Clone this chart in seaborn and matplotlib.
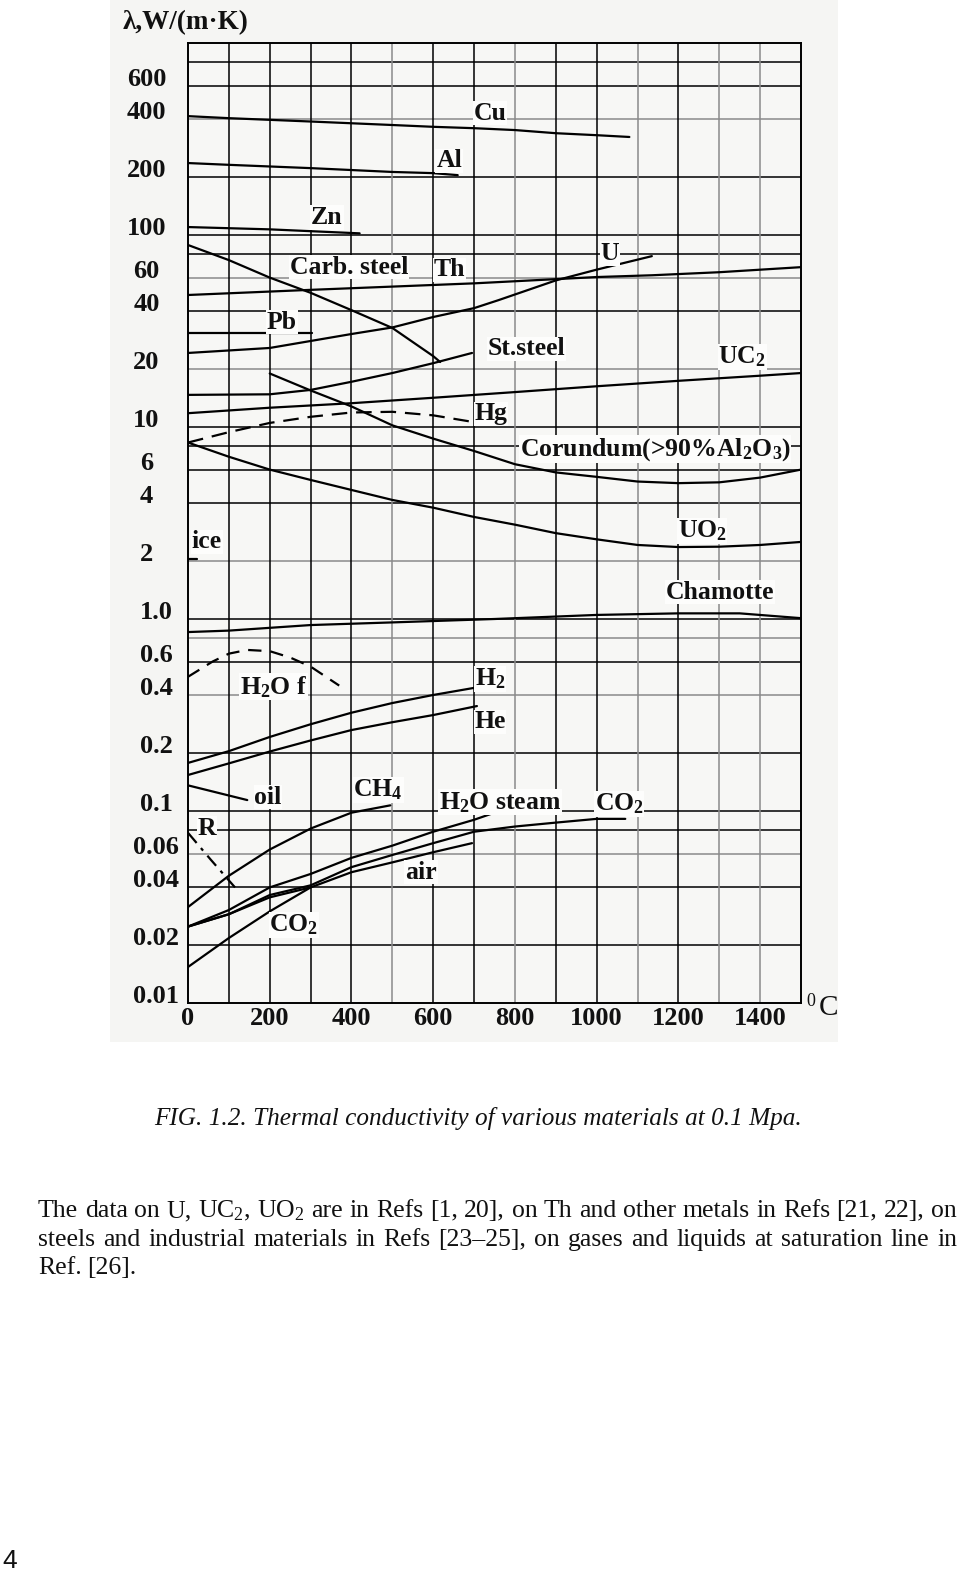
import numpy as np
import pandas as pd
import matplotlib
matplotlib.use("Agg")
import matplotlib.pyplot as plt
import seaborn as sns
from matplotlib.patches import Rectangle
from matplotlib.ticker import FixedLocator, NullLocator

sns.set_theme(style="white")
plt.rcParams["font.family"] = ["Liberation Serif", "DejaVu Serif"]
plt.rcParams["mathtext.fontset"] = "custom"
plt.rcParams["mathtext.rm"] = "Liberation Serif"
plt.rcParams["mathtext.bf"] = "Liberation Serif:bold"
plt.rcParams["mathtext.default"] = "regular"

# ---------------- data ----------------
temp_ticks = [0, 200, 400, 600, 800, 1000, 1200, 1400]
lam_ticks = [600, 400, 200, 100, 60, 40, 20, 10, 6, 4, 2, 1.0, 0.6, 0.4, 0.2,
             0.1, 0.06, 0.04, 0.02, 0.01]
lam_tick_labels = ["600", "400", "200", "100", "60", "40", "20", "10", "6", "4",
                   "2", "1.0", "0.6", "0.4", "0.2", "0.1", "0.06", "0.04",
                   "0.02", "0.01"]
lam_grid = [800, 600, 400, 200, 100, 80, 60, 40, 20, 10, 8, 6, 4, 2, 1, 0.8,
            0.6, 0.4, 0.2, 0.1, 0.08, 0.06, 0.04, 0.02]
lam_grid_gray = [400, 60, 20, 2, 0.8, 0.4, 0.06]
lam_decades = [100, 10, 1, 0.1]
temp_grid = [100, 200, 300, 400, 500, 600, 700, 800, 900, 1000, 1100, 1200, 1300, 1400]
temp_grid_gray = [500, 800, 1100, 1300, 1400]

cu_t = [0, 100, 300, 500, 600, 700, 800, 900, 1000, 1080]
cu_v = [416, 406, 390, 374, 366, 360, 352, 339, 331, 324]
al_t = [0, 100, 300, 500, 600, 660]
al_v = [237, 232, 223, 213, 210, 205]
zn_t = [0, 200, 420]
zn_v = [110, 107, 102]
pb_t = [0, 303]
pb_v = [31, 31]
cs_t = [0, 100, 200, 300, 400, 500, 600, 617]
cs_v = [88.7, 74, 60, 50, 40.6, 32.8, 23.4, 21.8]
th_t = [0, 300, 700, 1000, 1135, 1300, 1500]
th_v = [48.7, 51.8, 56, 60.4, 61.7, 64, 68]
u_t = [0, 200, 400, 500, 600, 700, 760, 900, 1000, 1135]
u_v = [24.3, 25.8, 30.5, 33, 37.4, 41.6, 45.8, 58, 66, 77.6]
ss_t = [0, 200, 300, 400, 500, 600, 695]
ss_v = [14.7, 14.8, 15.6, 17.2, 19.1, 21.5, 24.3]
uc2_t = [0, 200, 400, 600, 800, 1000, 1200, 1400, 1500]
uc2_v = [11.8, 12.6, 13.3, 14.2, 15.2, 16.3, 17.4, 18.5, 19.1]
hg_t = [0, 100, 200, 300, 400, 500, 600, 700]
hg_v = [8.3, 9.4, 10.5, 11.3, 11.9, 12, 11.5, 10.6]
cor_t = [200, 300, 400, 500, 600, 700, 800, 900, 1000, 1100, 1200, 1300, 1400, 1500]
cor_v = [19, 15.5, 12.8, 10.2, 8.7, 7.5, 6.4, 5.8, 5.5, 5.2, 5.1, 5.15, 5.45, 6]
uo2_t = [0, 100, 200, 300, 400, 500, 600, 700, 800, 900, 1000, 1100, 1200, 1300, 1400, 1500]
uo2_v = [8.3, 7, 6, 5.3, 4.7, 4.17, 3.8, 3.4, 3.1, 2.8, 2.6, 2.43, 2.37, 2.38, 2.43, 2.52]
cham_t = [0, 100, 300, 500, 750, 1000, 1200, 1350, 1500]
cham_v = [0.855, 0.87, 0.93, 0.96, 1.0, 1.05, 1.07, 1.07, 1.01]
ice_t = [0, 22]
ice_v = [2.05, 2.05]
h2of_t = [0, 60, 100, 145, 200, 250, 300, 370]
h2of_v = [0.5, 0.6, 0.66, 0.69, 0.68, 0.63, 0.565, 0.45]
h2_t = [0, 100, 200, 300, 400, 500, 600, 714]
h2_v = [0.178, 0.205, 0.243, 0.283, 0.325, 0.365, 0.402, 0.443]
he_t = [0, 100, 200, 300, 400, 500, 600, 707]
he_v = [0.154, 0.177, 0.204, 0.233, 0.264, 0.29, 0.316, 0.352]
oil_t = [0, 145]
oil_v = [0.136, 0.114]
r_t = [0, 55, 115]
r_v = [0.077, 0.056, 0.040]
ch4_t = [0, 100, 200, 300, 400, 495]
ch4_v = [0.0316, 0.046, 0.063, 0.081, 0.098, 0.107]
steam_t = [0, 100, 200, 300, 400, 500, 600, 700, 750]
steam_v = [0.025, 0.0305, 0.040, 0.047, 0.057, 0.066, 0.078, 0.09, 0.098]
co2u_t = [0, 100, 200, 300, 400, 500, 600, 700, 800, 900, 1000, 1070]
co2u_v = [0.025, 0.029, 0.0365, 0.041, 0.051, 0.059, 0.068, 0.078, 0.083, 0.087, 0.091, 0.091]
air_t = [0, 100, 200, 300, 400, 500, 600, 695]
air_v = [0.025, 0.029, 0.0355, 0.040, 0.048, 0.054, 0.061, 0.068]
co2l_t = [0, 100, 200, 300]
co2l_v = [0.0154, 0.0218, 0.030, 0.040]

series = [
    ("Cu", cu_t, cu_v, "solid"), ("Al", al_t, al_v, "solid"),
    ("Zn", zn_t, zn_v, "solid"), ("Pb", pb_t, pb_v, "solid"),
    ("Carb. steel", cs_t, cs_v, "solid"), ("Th", th_t, th_v, "solid"),
    ("U", u_t, u_v, "solid"), ("St.steel", ss_t, ss_v, "solid"),
    ("UC2", uc2_t, uc2_v, "solid"), ("Hg", hg_t, hg_v, (0, (7, 4))),
    ("Corundum", cor_t, cor_v, "solid"), ("UO2", uo2_t, uo2_v, "solid"),
    ("Chamotte", cham_t, cham_v, "solid"), ("ice", ice_t, ice_v, "solid"),
    ("H2O f", h2of_t, h2of_v, (0, (6, 4))), ("H2", h2_t, h2_v, "solid"),
    ("He", he_t, he_v, "solid"), ("oil", oil_t, oil_v, "solid"),
    ("R", r_t, r_v, (0, (6, 3, 1.5, 3))), ("CH4", ch4_t, ch4_v, "solid"),
    ("H2O steam", steam_t, steam_v, "solid"), ("CO2", co2u_t, co2u_v, "solid"),
    ("air", air_t, air_v, "solid"), ("CO2 low", co2l_t, co2l_v, "solid"),
]

# label text and placement (temperature, lambda) -- layout only
labels = [
    ("Cu", 739, 431), ("Al", 639, 243), ("Zn", 340, 123),
    ("Carb. steel", 394, 68), ("Th", 639, 65.8), ("U", 1033, 80),
    ("Pb", 230, 35.2), ("St.steel", 829, 25.5), ("UC$_2$", 1356, 23.2),
    ("Hg", 741, 11.7), ("Corundum(>90%Al$_2$O$_3$)", 1143, 7.67),
    ("UO$_2$", 1258, 2.87), ("Chamotte", 1302, 1.38), ("ice", 46, 2.52),
    ("H$_2$O f", 210, 0.443), ("H$_2$", 739, 0.487), ("He", 739, 0.291),
    ("oil", 196, 0.118), ("CH$_4$", 465, 0.129), ("H$_2$O steam", 763, 0.111),
    ("CO$_2$", 1055, 0.109), ("R", 46, 0.0815), ("air", 570, 0.048),
    ("CO$_2$", 259, 0.0255),
]

W, H = 960, 1580
fig = plt.figure(figsize=(W / 100, H / 100), dpi=100)
fig.patch.set_facecolor("white")

# scanned-image backdrop
fig.patches.append(Rectangle((110 / W, 1 - 1042 / H), (838 - 110) / W, 1042 / H,
                             transform=fig.transFigure, facecolor="#f5f5f3",
                             edgecolor="none", zorder=-10))

ax = fig.add_axes([188 / W, 1 - 1003 / H, (801 - 188) / W, 960 / H])
ax.set_zorder(5)
ax.set_facecolor("#f7f7f5")
ax.set_yscale("log")
ax.set_xlim(0, 1500)
ax.set_ylim(0.01, 1000)

for g in lam_grid:
    ax.axhline(g, color="#8a8a8a" if g in lam_grid_gray else "black",
               lw=1.1, zorder=1)
for g in temp_grid:
    ax.axvline(g, color="#8a8a8a" if g in temp_grid_gray else "black",
               lw=1.1, zorder=1)

for name, t, v, ls in series:
    sns.lineplot(x=t, y=v, ax=ax, color="black", lw=1.6, linestyle=ls,
                 estimator=None, sort=False, legend=False, zorder=3)

for txt, tx, ty in labels:
    ax.text(tx, ty, txt, ha="center", va="center", fontsize=18.5,
            fontweight="bold", color="#111111", zorder=4,
            bbox=dict(facecolor="#fdfdfc", edgecolor="none", pad=0.5))

for s in ax.spines.values():
    s.set_color("black")
    s.set_linewidth(1.4)

ax.set_xticks(temp_ticks)
ax.set_xticklabels([str(t) for t in temp_ticks], fontsize=19, fontweight="bold")
ax.tick_params(axis="x", length=0, pad=3, colors="#111111")

ax.yaxis.set_major_locator(FixedLocator(lam_ticks))
ax.set_yticklabels(lam_tick_labels, fontsize=19, fontweight="bold")
ax.yaxis.set_minor_locator(FixedLocator(lam_decades))
ax.tick_params(axis="y", which="major", length=0, colors="#111111")
ax.tick_params(axis="y", which="minor", left=True, length=9.5, width=1.2,
               color="black")
for tick, val in zip(ax.yaxis.get_major_ticks(), lam_ticks):
    tick.set_pad(30 if val >= 2 else 23)
    tick.label1.set_horizontalalignment("center")
    tick.label1.set_verticalalignment("baseline")
ax.set_xlabel("")
ax.set_ylabel("")

fig.text(123 / W, 1 - 23 / H, "λ,W/(m·K)", ha="left", va="center",
         fontsize=19.5, fontweight="bold", color="#111111")
fig.text(811 / W, 1 - 1001 / H, "0", ha="center", va="center", fontsize=13,
         color="#111111")
fig.text(829 / W, 1 - 1008 / H, "C", ha="center", va="center", fontsize=21,
         color="#111111")

# caption and body text
renderer = fig.canvas.get_renderer()
cap = fig.text(478 / W, 1 - 1119 / H,
               "FIG. 1.2. Thermal conductivity of various materials at 0.1 Mpa.",
               ha="center", va="center", fontsize=17, style="italic",
               color="#111111")
wcap = cap.get_window_extent(renderer).width
cap.set_fontsize(17 * 649 / wcap)

body_lines = [
    ("The data on U, UC$_2$, UO$_2$ are in Refs [1, 20], on Th and other metals in Refs [21, 22], on", True, 1211),
    ("steels and industrial materials in Refs [23–25], on gases and liquids at saturation line in", True, 1240),
    ("Ref. [26].", False, 1268),
]
x0, x1 = 38, 957
for line, justify, yy in body_lines:
    words = line.split(" ")
    texts = [fig.text(0, 1 - yy / H, w_, ha="left", va="center", fontsize=18.5,
                      color="#111111") for w_ in words]
    widths = [t_.get_window_extent(renderer).width for t_ in texts]
    if justify:
        gap = (x1 - x0 - sum(widths)) / (len(words) - 1)
    else:
        gap = 5
    xx = x0
    for t_, w_ in zip(texts, widths):
        t_.set_x(xx / W)
        xx += w_ + gap

fig.text(2 / W, 1 - 1549 / H, "4", ha="left", va="top", fontsize=19,
         family="Liberation Sans", color="#111111")

fig.savefig("out.png", dpi=100)
